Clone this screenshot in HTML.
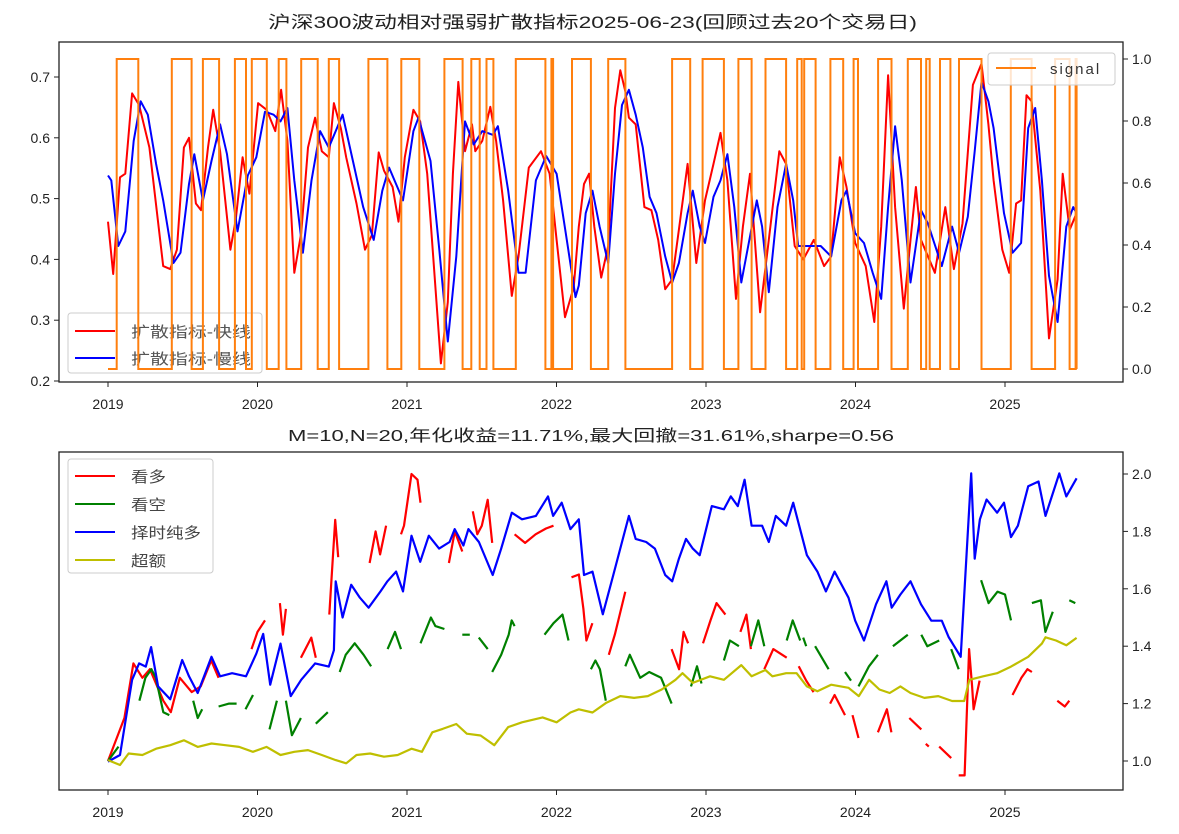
<!DOCTYPE html>
<html><head><meta charset="utf-8">
<style>
html,body{margin:0;padding:0;background:#fff;}
svg{display:block;}
text{font-family:"Liberation Sans","Noto Sans CJK SC",sans-serif;}
</style></head>
<body>
<svg id="fig" width="1179" height="834" viewBox="0 0 1179 834" xmlns="http://www.w3.org/2000/svg">
<rect x="0" y="0" width="1179" height="834" fill="#fff"/>
<text x="268" y="28" font-size="17" fill="#222" textLength="649" lengthAdjust="spacingAndGlyphs">沪深300波动相对强弱扩散指标2025-06-23(回顾过去20个交易日)</text>
<text x="288" y="441" font-size="16" fill="#222" textLength="606" lengthAdjust="spacingAndGlyphs">M=10,N=20,年化收益=11.71%,最大回撤=31.61%,sharpe=0.56</text>
<g id="top"></g>
<g id="bot"></g>
</svg>
<script>
// ---------- data (x in years since 2019-01-01) ----------
const yearTicks = [2019,2020,2021,2022,2023,2024,2025];
const topLeftTicks = [0.2,0.3,0.4,0.5,0.6,0.7];
const topRightTicks = [0.0,0.2,0.4,0.6,0.8,1.0];
const botRightTicks = [1.0,1.2,1.4,1.6,1.8,2.0];

const signalOn  = [0.058,0.427,0.635,0.849,0.962,1.142,1.292,1.477,1.742,1.962,2.250,2.430,2.532,2.728,2.966,3.104,3.346,3.773,3.977,4.217,4.398,4.610,4.657,4.832,4.987,5.151,5.350,5.473,5.565,5.692,6.039,6.335,6.472];
const signalOff = [0.203,0.559,0.743,0.923,1.062,1.193,1.403,1.546,1.869,2.082,2.372,2.486,2.578,2.926,2.977,3.230,3.461,3.894,4.120,4.305,4.536,4.640,4.733,4.918,5.017,5.241,5.438,5.496,5.635,5.843,6.178,6.432,6.479];
const signalEnd = 6.48;

const fastX = [0,0.035,0.080,0.116,0.161,0.208,0.277,0.369,0.416,0.461,0.508,0.542,0.588,0.622,0.669,0.704,0.750,0.819,0.854,0.900,0.946,1.004,1.061,1.119,1.158,1.200,1.246,1.292,1.338,1.385,1.430,1.477,1.511,1.557,1.593,1.662,1.719,1.765,1.811,1.846,1.904,1.943,1.985,2.043,2.088,2.135,2.181,2.227,2.273,2.307,2.343,2.388,2.435,2.457,2.504,2.557,2.596,2.643,2.701,2.746,2.815,2.896,2.954,3.001,3.057,3.115,
3.149,3.184,3.218,3.253,3.299,3.346,3.391,3.427,3.461,3.484,3.530,3.588,3.635,3.680,3.727,3.774,3.819,3.877,3.935,3.993,4.050,4.097,4.143,4.201,4.247,4.294,4.362,4.420,4.490,4.536,4.593,4.651,4.721,4.790,4.837,4.895,4.940,4.998,5.068,5.126,5.172,5.218,5.265,5.323,5.368,5.404,5.438,5.531,5.601,5.658,5.716,5.785,5.843,5.889,5.924,5.982,6.028,6.074,6.108,6.144,6.178,6.236,6.294,6.352,6.386,6.433,6.479];
const fastY = [0.462,0.376,0.535,0.541,0.673,0.654,0.584,0.389,0.384,0.416,0.584,0.600,0.492,0.481,0.584,0.646,0.578,0.416,0.465,0.568,0.508,0.657,0.646,0.611,0.679,0.595,0.378,0.443,0.584,0.633,0.578,0.568,0.657,0.616,0.568,0.492,0.416,0.440,0.576,0.546,0.519,0.462,0.568,0.646,0.627,0.541,0.384,0.229,0.330,0.541,0.692,0.578,0.622,0.578,0.595,0.651,0.595,0.497,0.340,0.405,0.551,0.578,0.541,0.432,0.305,0.354,
0.454,0.524,0.541,0.454,0.370,0.422,0.649,0.711,0.676,0.633,0.622,0.486,0.481,0.432,0.351,0.367,0.449,0.557,0.394,0.497,0.557,0.608,0.530,0.335,0.454,0.541,0.313,0.432,0.578,0.557,0.422,0.400,0.432,0.389,0.405,0.568,0.519,0.427,0.389,0.297,0.454,0.703,0.486,0.319,0.432,0.519,0.432,0.378,0.486,0.384,0.459,0.687,0.722,0.622,0.530,0.416,0.378,0.492,0.497,0.670,0.660,0.513,0.270,0.367,0.541,0.449,0.476];

const slowX = [0,0.022,0.069,0.116,0.172,0.219,0.266,0.322,0.369,0.438,0.485,0.542,0.577,0.635,0.692,0.750,0.796,0.866,0.935,0.992,1.050,1.108,1.154,1.200,1.246,1.304,1.361,1.419,1.477,1.569,1.638,1.707,1.777,1.835,1.880,1.973,2.043,2.077,2.157,2.216,2.273,2.330,2.388,2.446,2.504,2.573,2.608,2.677,2.746,2.793,2.862,2.931,3.001,3.069,3.127,
3.149,3.195,3.241,3.288,3.346,3.391,3.438,3.484,3.530,3.577,3.623,3.669,3.727,3.774,3.819,3.877,3.912,3.958,3.993,4.050,4.097,4.143,4.189,4.236,4.282,4.340,4.375,4.420,4.478,4.536,4.583,4.617,4.675,4.767,4.837,4.906,4.940,4.998,5.057,5.115,5.172,5.218,5.265,5.310,5.368,5.438,5.484,5.577,5.646,5.693,5.751,5.797,5.843,5.889,5.924,5.993,6.051,6.108,6.155,6.202,6.247,6.294,6.352,6.410,6.456,6.479];
const slowY = [0.538,0.530,0.422,0.446,0.595,0.660,0.638,0.557,0.497,0.394,0.411,0.524,0.573,0.497,0.562,0.622,0.573,0.446,0.538,0.568,0.643,0.638,0.627,0.649,0.530,0.411,0.530,0.611,0.584,0.638,0.562,0.486,0.432,0.513,0.551,0.497,0.611,0.633,0.562,0.416,0.265,0.405,0.627,0.589,0.611,0.605,0.619,0.513,0.378,0.378,0.530,0.570,0.541,0.432,0.338,
0.357,0.476,0.513,0.454,0.394,0.541,0.654,0.679,0.638,0.584,0.503,0.476,0.405,0.362,0.394,0.476,0.513,0.454,0.427,0.503,0.530,0.573,0.486,0.362,0.422,0.497,0.454,0.346,0.486,0.557,0.497,0.422,0.422,0.422,0.405,0.497,0.513,0.443,0.427,0.378,0.335,0.486,0.619,0.530,0.362,0.481,0.459,0.389,0.454,0.411,0.470,0.578,0.692,0.660,0.616,0.476,0.411,0.427,0.616,0.649,0.530,0.373,0.297,0.454,0.486,0.476];

const timingX = [0,0.080,0.161,0.208,0.253,0.288,0.335,0.416,0.496,0.542,0.600,0.692,0.750,0.830,0.923,0.992,1.038,1.085,1.154,1.222,1.292,1.385,1.477,1.511,1.523,1.569,1.627,1.685,1.743,1.823,1.869,1.927,1.973,2.030,2.088,2.146,2.215,2.285,2.319,2.377,2.411,2.481,2.573,2.630,2.701,2.769,2.862,2.943,2.977,3.035,3.093,
3.149,3.184,3.241,3.310,3.380,3.438,3.484,3.530,3.600,3.658,3.727,3.774,3.819,3.866,3.912,3.958,4.039,4.120,4.166,4.213,4.258,4.305,4.375,4.420,4.467,4.536,4.583,4.675,4.745,4.802,4.860,4.953,4.998,5.057,5.137,5.207,5.242,5.300,5.368,5.438,5.507,5.577,5.623,5.704,5.774,5.797,5.832,5.877,5.947,5.993,6.040,6.086,6.155,6.224,6.271,6.363,6.410,6.479];
const timingY = [0.998,1.021,1.283,1.340,1.329,1.397,1.260,1.215,1.352,1.295,1.237,1.363,1.295,1.306,1.295,1.374,1.443,1.266,1.409,1.226,1.283,1.340,1.329,1.386,1.626,1.500,1.614,1.569,1.534,1.591,1.626,1.660,1.591,1.785,1.694,1.785,1.740,1.763,1.808,1.751,1.808,1.763,1.648,1.740,1.865,1.842,1.854,1.922,1.854,1.900,1.808,
1.842,1.648,1.660,1.511,1.648,1.763,1.854,1.774,1.763,1.740,1.648,1.626,1.705,1.774,1.740,1.717,1.888,1.877,1.922,1.888,1.980,1.820,1.820,1.763,1.854,1.820,1.900,1.717,1.660,1.591,1.660,1.569,1.489,1.420,1.546,1.626,1.534,1.580,1.626,1.546,1.489,1.489,1.432,1.363,2.002,1.705,1.842,1.911,1.865,1.900,1.780,1.820,1.957,1.974,1.854,2.002,1.922,1.985];

const excessX = [0,0.080,0.138,0.230,0.322,0.416,0.508,0.600,0.692,0.785,0.877,0.969,1.061,1.154,1.246,1.338,1.430,1.523,1.593,1.662,1.754,1.846,1.938,2.030,2.100,2.169,2.238,2.330,2.400,2.492,2.584,2.677,2.769,2.907,3.001,3.093,
3.149,3.241,3.334,3.427,3.519,3.611,3.704,3.796,3.843,3.912,4.027,4.120,4.236,4.305,4.397,4.444,4.536,4.606,4.675,4.745,4.837,4.953,5.022,5.091,5.160,5.229,5.300,5.368,5.461,5.554,5.646,5.727,5.762,5.854,5.947,6.040,6.155,6.247,6.271,6.341,6.410,6.479];
const excessY = [1.003,0.986,1.026,1.021,1.043,1.055,1.072,1.049,1.061,1.055,1.049,1.032,1.049,1.021,1.032,1.038,1.021,1.003,0.992,1.021,1.026,1.015,1.021,1.043,1.032,1.100,1.112,1.129,1.095,1.089,1.055,1.118,1.135,1.152,1.135,1.169,
1.180,1.169,1.203,1.226,1.220,1.226,1.249,1.283,1.306,1.272,1.295,1.283,1.334,1.295,1.317,1.295,1.306,1.306,1.260,1.243,1.266,1.255,1.226,1.283,1.249,1.237,1.260,1.237,1.220,1.226,1.209,1.209,1.283,1.295,1.306,1.329,1.363,1.409,1.431,1.420,1.403,1.429];

// 看多 (long) segments
const longSegX = [[0,0.11,0.17,0.23,0.28,0.37,0.42,0.48,0.56,0.62,0.69,0.74],[0.96,1.00,1.05],[1.15,1.17,1.19],[1.29,1.36,1.39],[1.48,1.52,1.54],[1.75,1.79,1.82,1.86],[1.96,1.98,2.03,2.07,2.09],[2.28,2.32,2.37],[2.44,2.47,2.50,2.54,2.57],[2.72,2.79,2.86,2.93,2.98],[3.10,3.15,3.18,3.20,3.24],[3.35,3.39,3.46],[3.77,3.82,3.85,3.88],[3.98,4.03,4.07,4.13],[4.23,4.27,4.30],[4.39,4.45,4.54],[4.62,4.67,4.72],[4.83,4.86,4.93],[4.98,5.02],[5.15,5.21,5.24],[5.36,5.44],[5.47,5.49],[5.56,5.64],[5.69,5.73,5.76,5.78,5.79,5.83],[6.05,6.11,6.15,6.18],[6.35,6.40,6.43]];
const longSegY = [[1.00,1.15,1.34,1.29,1.32,1.21,1.17,1.29,1.24,1.26,1.35,1.29],[1.39,1.45,1.49],[1.55,1.44,1.53],[1.36,1.43,1.36],[1.51,1.84,1.71],[1.69,1.80,1.72,1.82],[1.79,1.82,2.00,1.98,1.90],[1.69,1.80,1.73],[1.87,1.79,1.82,1.91,1.76],[1.79,1.76,1.79,1.81,1.82],[1.64,1.65,1.53,1.42,1.48],[1.37,1.44,1.59],[1.39,1.32,1.45,1.41],[1.41,1.49,1.55,1.51],[1.45,1.51,1.39],[1.32,1.39,1.36],[1.33,1.28,1.24],[1.20,1.23,1.16],[1.16,1.08],[1.10,1.18,1.10],[1.15,1.11],[1.06,1.05],[1.05,1.01],[0.95,0.95,1.39,1.26,1.18,1.28],[1.23,1.29,1.32,1.31],[1.21,1.19,1.21]];

// 看空 (short) segments
const shortSegX = [[0,0.07],[0.21,0.25,0.29,0.32,0.37,0.41],[0.57,0.60,0.63],[0.74,0.81,0.86],[0.92,0.97],[1.08,1.13],[1.19,1.23,1.29],[1.39,1.47],[1.55,1.59,1.65,1.71,1.76],[1.87,1.92,1.96],[2.09,2.16,2.19,2.25],[2.37,2.42],[2.48,2.54],[2.57,2.63,2.68,2.70,2.72],[2.92,2.98,3.04,3.08],[3.23,3.26,3.29,3.33],[3.46,3.49,3.56,3.62,3.70,3.77],[3.90,3.94,3.97],[4.12,4.16,4.22],[4.30,4.35,4.39],[4.54,4.58,4.63],[4.65,4.67],[4.73,4.82],[4.93,4.97],[5.02,5.09,5.15],[5.25,5.35],[5.44,5.48,5.56],[5.64,5.69],[5.84,5.89,5.95,6.00,6.04],[6.18,6.24,6.27,6.32],[6.43,6.47]];
const shortSegY = [[1.00,1.05],[1.21,1.29,1.32,1.29,1.17,1.16],[1.21,1.15,1.18],[1.19,1.20,1.20],[1.18,1.23],[1.11,1.21],[1.21,1.09,1.15],[1.13,1.17],[1.31,1.37,1.41,1.37,1.33],[1.39,1.45,1.39],[1.41,1.50,1.47,1.46],[1.44,1.44],[1.43,1.39],[1.31,1.37,1.44,1.49,1.47],[1.44,1.48,1.51,1.42],[1.32,1.35,1.32,1.21],[1.33,1.37,1.29,1.31,1.29,1.20],[1.26,1.33,1.27],[1.35,1.42,1.40],[1.40,1.49,1.40],[1.42,1.49,1.42],[1.43,1.40],[1.40,1.32],[1.31,1.28],[1.26,1.33,1.37],[1.40,1.44],[1.44,1.40,1.42],[1.39,1.32],[1.63,1.55,1.59,1.58,1.49],[1.55,1.56,1.45,1.52],[1.56,1.55]];

// ---------- layout ----------
const NS = "http://www.w3.org/2000/svg";
const AX = {left:59, right:1123};
const TOPBOX = {top:42, bottom:382};
const BOTBOX = {top:452, bottom:790};
const xOf = d => 108 + d*149.5;
const xYear = yr => 108 + (yr-2019)*149.5;
const yTopL = v => 381 - (v-0.2)/0.5*304;
const yTopR = v => 369 - v*310;
const yBot = v => 761 - (v-1.0)*287;

function mk(tag, attrs, parent){
  const e = document.createElementNS(NS, tag);
  for (const k in attrs) e.setAttribute(k, attrs[k]);
  parent.appendChild(e);
  return e;
}
function pathFrom(xs, ys, yf){
  let d = "";
  for (let i=0;i<xs.length;i++) d += (i?"L":"M") + xOf(xs[i]).toFixed(1) + "," + yf(ys[i]).toFixed(1);
  return d;
}
const topG = document.getElementById('top');
const botG = document.getElementById('bot');

function frame(g, box){
  const r = mk('rect', {x:AX.left, y:box.top, width:AX.right-AX.left, height:box.bottom-box.top, fill:'none', stroke:'#222', 'stroke-width':1.3}, g);
  
  
  yearTicks.forEach(yr => {
    const x = xYear(yr);
    const t = mk('line', {x1:x, x2:x, y1:box.bottom, y2:box.bottom+5, stroke:'#222'}, g);
    
    
    const l = mk('text', {x:x, y:box.bottom+27, 'text-anchor':'middle', 'font-size':14, fill:'#222'}, g);
    l.textContent = yr;
    
    
  });
}

// ----- top chart -----
frame(topG, TOPBOX);
topLeftTicks.forEach(v => {
  const y = yTopL(v);
  const t = mk('line', {x1:AX.left-5, x2:AX.left, y1:y, y2:y, stroke:'#222'}, topG);
  
  
  const l = mk('text', {x:AX.left-9, y:y+5, 'text-anchor':'end', 'font-size':14, fill:'#222'}, topG);
  l.textContent = v.toFixed(1);
  
  
});
topRightTicks.forEach(v => {
  const y = yTopR(v);
  const t = mk('line', {x1:AX.right, x2:AX.right+5, y1:y, y2:y, stroke:'#222'}, topG);
  
  
  const l = mk('text', {x:AX.right+9, y:y+5, 'font-size':14, fill:'#222'}, topG);
  l.textContent = v.toFixed(1);
  
  
});
const fast = mk('path', {d:pathFrom(fastX, fastY, yTopL), fill:'none', stroke:'#ff0000', 'stroke-width':2, 'stroke-linejoin':'round'}, topG);


const slow = mk('path', {d:pathFrom(slowX, slowY, yTopL), fill:'none', stroke:'#0000ff', 'stroke-width':2, 'stroke-linejoin':'round'}, topG);



const lg1 = mk('g', {}, topG);


mk('rect', {x:68, y:313, width:194, height:60, rx:3, fill:'#fff', 'fill-opacity':0.8, stroke:'#ccc'}, lg1);
[['扩散指标-快线','#ff0000',331],['扩散指标-慢线','#0000ff',358]].forEach(e => {
  const ln = mk('line', {x1:75, x2:115, y1:e[2], y2:e[2], stroke:e[1], 'stroke-width':2}, lg1);
  
  
  const t = mk('text', {x:131, y:e[2]+6, 'font-size':15, fill:'#555', textLength:120, lengthAdjust:'spacingAndGlyphs'}, lg1);
  t.textContent = e[0];
  
  
});

let sd = "M" + xOf(0).toFixed(1) + "," + yTopR(0).toFixed(1);
for (let i=0;i<signalOn.length;i++){
  sd += "L" + xOf(signalOn[i]).toFixed(1) + "," + yTopR(0).toFixed(1);
  sd += "L" + xOf(signalOn[i]).toFixed(1) + "," + yTopR(1).toFixed(1);
  sd += "L" + xOf(signalOff[i]).toFixed(1) + "," + yTopR(1).toFixed(1);
  sd += "L" + xOf(signalOff[i]).toFixed(1) + "," + yTopR(0).toFixed(1);
}
sd += "L" + xOf(signalEnd).toFixed(1) + "," + yTopR(0).toFixed(1);
const sig = mk('path', {d:sd, fill:'none', stroke:'#ff7f0e', 'stroke-width':2}, topG);



const lg2 = mk('g', {}, topG);


mk('rect', {x:988, y:53, width:127, height:32, rx:3, fill:'#fff', 'fill-opacity':0.8, stroke:'#ccc'}, lg2);
const sl = mk('line', {x1:996, x2:1036, y1:68, y2:68, stroke:'#ff7f0e', 'stroke-width':2}, lg2);


const st = mk('text', {x:1050, y:74, 'font-size':15, fill:'#333', 'letter-spacing':2}, lg2);
st.textContent = 'signal';



// ----- bottom chart -----
frame(botG, BOTBOX);
botRightTicks.forEach(v => {
  const y = yBot(v);
  const t = mk('line', {x1:AX.right, x2:AX.right+5, y1:y, y2:y, stroke:'#222'}, botG);
  
  
  const l = mk('text', {x:AX.right+9, y:y+5, 'font-size':14, fill:'#222'}, botG);
  l.textContent = v.toFixed(1);
  
  
});
longSegX.forEach((xs, i) => {
  const p = mk('path', {d:pathFrom(xs, longSegY[i], yBot), fill:'none', stroke:'#ff0000', 'stroke-width':2.2, 'stroke-linejoin':'round'}, botG);
  
  
});
shortSegX.forEach((xs, i) => {
  const p = mk('path', {d:pathFrom(xs, shortSegY[i], yBot), fill:'none', stroke:'#008000', 'stroke-width':2.2, 'stroke-linejoin':'round'}, botG);
  
  
});
const tm = mk('path', {d:pathFrom(timingX, timingY, yBot), fill:'none', stroke:'#0000ff', 'stroke-width':2.2, 'stroke-linejoin':'round'}, botG);


const ex = mk('path', {d:pathFrom(excessX, excessY, yBot), fill:'none', stroke:'#bfbf00', 'stroke-width':2.2, 'stroke-linejoin':'round'}, botG);



const lg3 = mk('g', {}, botG);


mk('rect', {x:68, y:459, width:145, height:114, rx:3, fill:'#fff', 'fill-opacity':0.8, stroke:'#ccc'}, lg3);
[['看多','#ff0000',476,35],['看空','#008000',504,35],['择时纯多','#0000ff',532,70],['超额','#bfbf00',560,35]].forEach(e => {
  const ln = mk('line', {x1:75, x2:115, y1:e[2], y2:e[2], stroke:e[1], 'stroke-width':2}, lg3);
  
  
  const t = mk('text', {x:131, y:e[2]+6, 'font-size':15, fill:'#444', textLength:e[3], lengthAdjust:'spacingAndGlyphs'}, lg3);
  t.textContent = e[0];
  
  
});
</script>
</body></html>
